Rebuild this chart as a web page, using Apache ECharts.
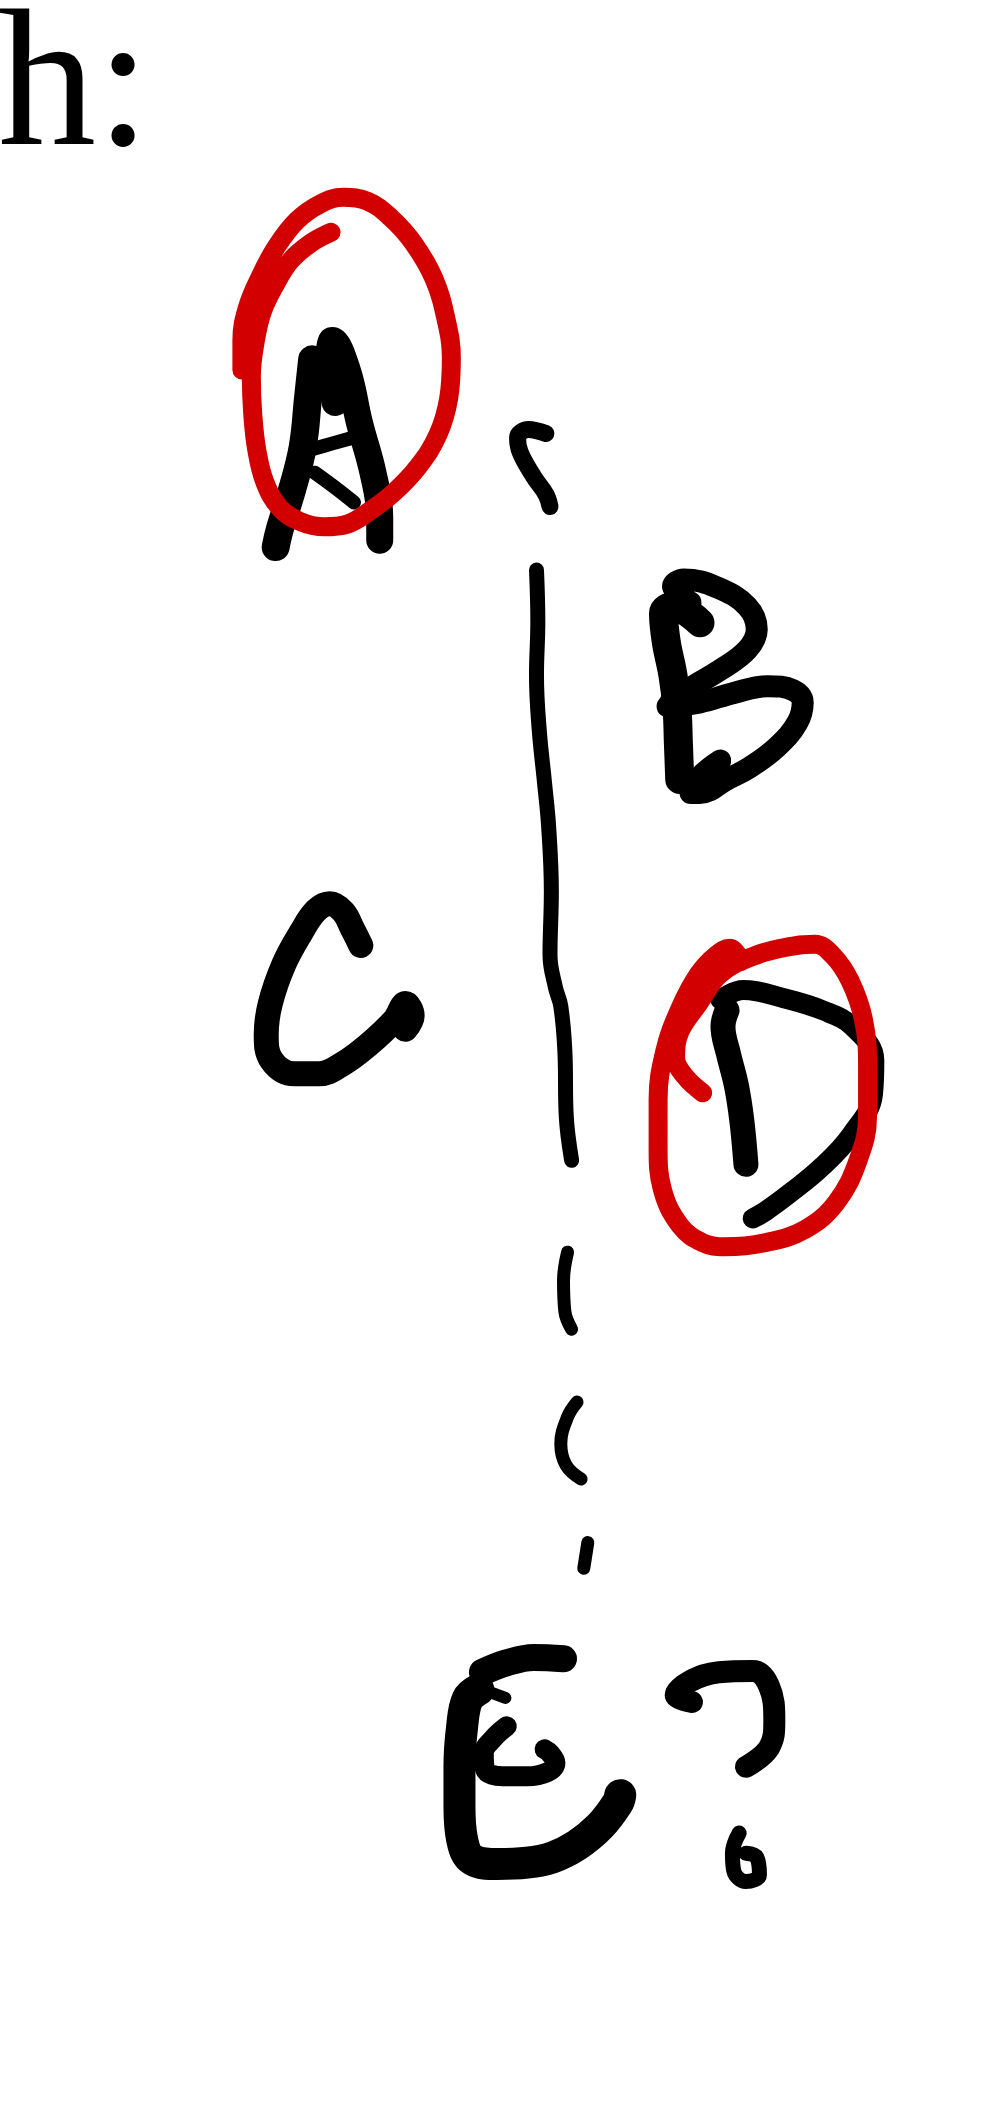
<!DOCTYPE html>
<html>
<head>
<meta charset="utf-8">
<script src="https://cdn.jsdelivr.net/npm/echarts@6.0.0/dist/echarts.min.js"></script>
<style>
  html, body { margin: 0; padding: 0; background: #fff; }
  #main { width: 1000px; height: 2118px; }
</style>
</head>
<body>
<div id="main"></div>
<script>
// sketch coordinates: x 0-740, y 0-1568 from the top of the page
var headText = 'h:';

// letter A and its red loop
var aLeft  = [[231,266],[228,294],[224,331],[216,363],[207,392],[204,405]];
var aRight = [[248,298],[244,259],[246,252],[257,274],[266,313],[276,350],[281,383],[281,400]];
var aBar   = [[222,335],[240,330],[261,324]];
var aDiag  = [[233,350],[248,361],[262,372]];
var aLoop  = [[245,172],[230,180],[215,193],[203,212],[194,231],[189,252],[186,279],[187,306],[190,333],[196,357],[207,376],[222,386],[240,390],[257,388],[274,378],[291,365],[309,346],[324,322],[332,295],[334,265],[330,236],[321,206],[306,180],[289,161],[272,149],[254,146],[237,151],[220,163],[205,182],[193,204],[183,228],[179,252],[179,274]];

// the dashed divider
var dashHook = [[404,321],[391,318],[383,324],[385,335],[395,353],[404,366],[407,375]];
var dashLong = [[397,422],[398,460],[397,500],[399,540],[403,580],[406,612],[408,660],[407,707],[411,731],[415,745],[418,778],[419,826],[423,859]];
var dash2 = [[420,927],[417,948],[418,971],[423,984]];
var dash3 = [[427,1038],[420,1049],[415,1069],[419,1085],[430,1095]];
var dash4 = [[435,1142],[432,1161]];

// letter B
var bStem  = [[518,461],[498,449],[491,454],[493,475],[498,500],[501,525],[502,550],[503,577]];
var bUpper = [[511,446],[498,434],[506,429],[531,435],[553,449],[560,466],[553,481],[533,496],[513,508],[496,520]];
var bLower = [[494,523],[518,520],[543,513],[568,508],[587,511],[594,520],[590,535],[575,553],[555,568],[538,577],[518,587],[511,587],[518,575],[533,563]];

// letter C
var cCurve = [[267,700],[261,688],[254,675],[244,669],[234,674],[223,690],[210,714],[200,743],[197,766],[201,785],[218,795],[236,795],[253,788],[272,774],[292,755],[300,743],[305,752],[300,762]];

// letter D and its red loop
var dStem = [[538,748],[535,760],[539,780],[545,804],[549,830],[552,862]];
var dBowl = [[533,740],[550,733],[580,739],[609,748],[631,760],[647,785],[646,810],[630,840],[608,864],[585,883],[566,897],[557,902]];
var dLoop = [[520,809],[507,797],[500,783],[503,764],[517,743],[533,721],[560,707],[589,700],[603,699],[616,707],[629,726],[639,755],[642,790],[642,826],[635,859],[619,890],[596,910],[566,920],[536,923],[520,920],[503,907],[490,880],[487,850],[487,814],[492,778],[503,747],[517,721],[530,707],[540,702],[546,707],[548,712]];

// letter E
var eTop   = [[357,1238],[375,1231],[395,1227],[417,1228]];
var eTick  = [[355,1250],[374,1257]];
var eSpine = [[354,1251],[346,1258],[342,1278],[340,1308],[340,1337],[342,1362],[350,1377],[368,1380],[390,1379],[409,1375],[427,1366],[444,1352],[457,1335],[459,1329]];
var eMid   = [[375,1278],[365,1287],[358,1298],[359,1310],[372,1315],[390,1315],[405,1312],[411,1305],[407,1298],[403,1295]];

// question mark
var qHook = [[512,1260],[500,1255],[510,1245],[532,1238],[557,1237],[569,1248],[573,1274],[569,1294],[552,1308]];
var qDot  = [[547,1357],[542,1372],[543,1385],[552,1393],[562,1388],[560,1375],[552,1372]];

var myChart = echarts.init(document.getElementById('main'));

var ink = '#000000';
var red = '#d20000';

var strokes = [
    {name: 'A', data: aLeft, color: ink, width: 28},
    {name: 'A', data: aRight, color: ink, width: 27},
    {name: 'A', data: aBar, color: ink, width: 14},
    {name: 'A', data: aDiag, color: ink, width: 14},
    {name: 'divider', data: dashHook, color: ink, width: 17},
    {name: 'divider', data: dashLong, color: ink, width: 15},
    {name: 'divider', data: dash2, color: ink, width: 13},
    {name: 'divider', data: dash3, color: ink, width: 13},
    {name: 'divider', data: dash4, color: ink, width: 13},
    {name: 'B', data: bStem, color: ink, width: 29},
    {name: 'B', data: bUpper, color: ink, width: 22},
    {name: 'B', data: bLower, color: ink, width: 22},
    {name: 'C', data: cCurve, color: ink, width: 25},
    {name: 'D', data: dStem, color: ink, width: 25},
    {name: 'D', data: dBowl, color: ink, width: 20},
    {name: 'E', data: eTop, color: ink, width: 27},
    {name: 'E', data: eTick, color: ink, width: 12},
    {name: 'E', data: eSpine, color: ink, width: 32},
    {name: 'E', data: eMid, color: ink, width: 20},
    {name: '?', data: qHook, color: ink, width: 22},
    {name: '?', data: qDot, color: ink, width: 15},
    {name: 'A circle', data: aLoop, color: red, width: 19},
    {name: 'D circle', data: dLoop, color: red, width: 19}
];

var series = [];
for (var i = 0; i < strokes.length; i++) {
    series.push({
        name: strokes[i].name,
        type: 'line',
        data: strokes[i].data,
        smooth: 0.4,
        symbol: 'none',
        silent: true,
        clip: false,
        lineStyle: {
            color: strokes[i].color,
            width: strokes[i].width,
            cap: 'round',
            join: 'round'
        }
    });
}

var option = {
    backgroundColor: '#ffffff',
    animation: false,
    grid: {left: 0, right: 0, top: 0, bottom: 0},
    xAxis: {type: 'value', min: 0, max: 740, show: false},
    yAxis: {type: 'value', min: 0, max: 1568, inverse: true, show: false},
    graphic: [
        {
            type: 'text',
            x: -2,
            y: 93,
            style: {
                text: headText,
                fill: '#000',
                fontFamily: 'Liberation Serif',
                fontSize: 196,
                verticalAlign: 'middle'
            }
        }
    ],
    series: series
};

myChart.setOption(option);

window.onresize = function () {
    myChart.resize();
};
</script>
</body>
</html>
